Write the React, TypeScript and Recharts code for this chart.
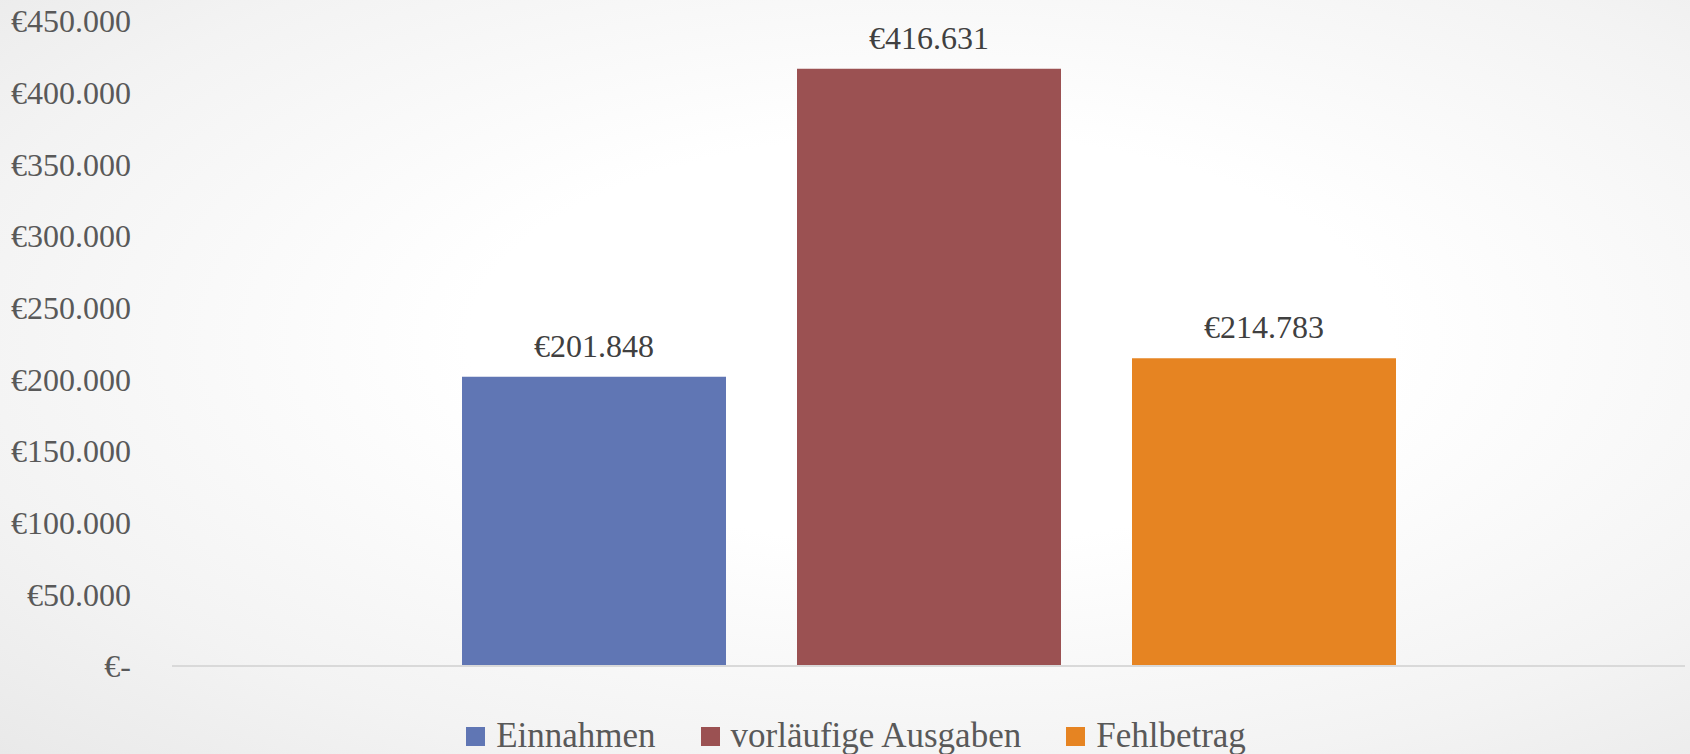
import React from 'react';
import { BarChart, Bar, XAxis, YAxis, Legend, LabelList, ReferenceLine } from 'recharts';

const categories = ['Summe'];
const seriesNames = ['Einnahmen', 'vorläufige Ausgaben', 'Fehlbetrag'];
const einnahmen = [201848];
const ausgaben = [416631];
const fehlbetrag = [214783];
const yTicks = [0, 50000, 100000, 150000, 200000, 250000, 300000, 350000, 400000, 450000];
const colors = ['#6076B4', '#9B5152', '#E68422'];

const data = categories.map((c, i) => ({
  name: c,
  s0: einnahmen[i],
  s1: ausgaben[i],
  s2: fehlbetrag[i],
}));

const FONT = '"Liberation Serif", "Times New Roman", serif';

const fmt = (v: number) => {
  if (v === 0) return '€-';
  return '€' + Math.round(v).toString().replace(/\B(?=(\d{3})+(?!\d))/g, '.');
};

const renderLegend = () => {
  return (
    <div style={{ display: 'flex', justifyContent: 'center', alignItems: 'center', height: 40, paddingLeft: 22, fontFamily: FONT }}>
      {seriesNames.map((name, i) => (
        <div key={i} style={{ display: 'flex', alignItems: 'center', marginRight: i < seriesNames.length - 1 ? 45 : 0 }}>
          <div style={{ width: 19, height: 19, background: colors[i], marginRight: 11 }} />
          <span style={{ fontSize: 35, color: '#595959', lineHeight: '40px' }}>{name}</span>
        </div>
      ))}
    </div>
  );
};

export default function App() {
  return (
    <div
      style={{
        position: 'absolute',
        left: 0,
        top: 0,
        width: 1690,
        height: 754,
        background: 'radial-gradient(ellipse at 55% 45%, #ffffff 35%, #f3f3f3 75%, #e9e9e9 100%)',
      }}
    >
      <BarChart
        width={1690}
        height={754}
        data={data}
        margin={{ top: 21, right: 5, bottom: 47, left: 0 }}
        barSize={264}
        barGap={71}
      >
        <XAxis dataKey="name" tick={false} tickLine={false} height={1} axisLine={false} />
        <YAxis
          width={172}
          domain={[0, 450000]}
          ticks={yTicks}
          tickFormatter={fmt}
          axisLine={false}
          tickLine={false}
          tickSize={0}
          tickMargin={41}
          tick={{ fill: '#595959', fontSize: 32, fontFamily: FONT }}
          interval={0}
        />
        <Legend
          verticalAlign="bottom"
          height={40}
          content={renderLegend}
          wrapperStyle={{ top: 716, left: 0, width: 1690, height: 40 }}
        />
        {['s0', 's1', 's2'].map((k, i) => (
          <Bar key={k} dataKey={k} name={seriesNames[i]} fill={colors[i]} isAnimationActive={false}>
            <LabelList
              dataKey={k}
              position="top"
              offset={20}
              formatter={(v: any) => fmt(Number(v))}
              style={{ fill: '#404040', fontSize: 32, fontFamily: FONT }}
            />
          </Bar>
        ))}
        <ReferenceLine y={0} stroke="#d9d9d9" strokeWidth={2} ifOverflow="extendDomain" />
      </BarChart>
    </div>
  );
}
